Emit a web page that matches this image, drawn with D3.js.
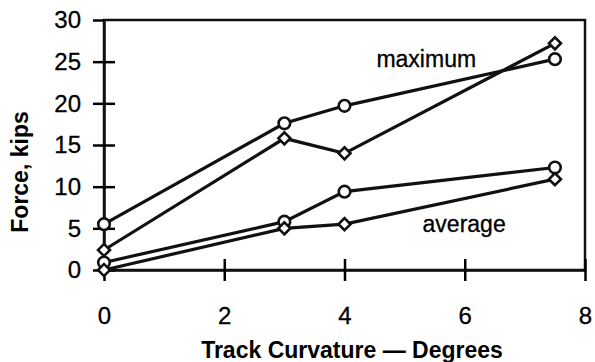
<!DOCTYPE html>
<html>
<head>
<meta charset="utf-8">
<script src="https://cdn.jsdelivr.net/npm/d3@7"></script>
<style>
  body { margin: 0; background: #fff; }
  svg text { font-family: "Liberation Sans", Arial, sans-serif; fill: #000; }
</style>
</head>
<body>
<svg id="canvas" width="595" height="362"></svg>
<script>
// data
const curvature = [0, 3, 4, 7.5];
const maxCircle = [5.5, 17.6, 19.7, 25.3];
const maxDiamond = [2.4, 15.8, 14.0, 27.2];
const avgCircle = [0.9, 5.8, 9.4, 12.3];
const avgDiamond = [0, 5.0, 5.5, 10.9];
const xTicks = [0, 2, 4, 6, 8];
const yTicks = [0, 5, 10, 15, 20, 25, 30];

const series = [
  { values: maxCircle, marker: 'circle' },
  { values: maxDiamond, marker: 'diamond' },
  { values: avgCircle, marker: 'circle' },
  { values: avgDiamond, marker: 'diamond' }
];

// margins & dimensions
const margin = { top: 20, right: 10, bottom: 92, left: 104 };
const width = 595 - margin.left - margin.right;
const height = 362 - margin.top - margin.bottom;

const svg = d3.select('#canvas')
  .append('g')
    .attr('transform', `translate(${margin.left},${margin.top})`);

const x = d3.scaleLinear().domain([0, 8]).range([0, width]);
const y = d3.scaleLinear().domain([0, 30]).range([height, 0]);

// frame
svg.append('rect')
  .attr('width', width).attr('height', height)
  .attr('fill', 'none').attr('stroke', '#111').attr('stroke-width', 2.5);

// axes, ticks cross the axis line
const yAxis = svg.append('g')
  .call(d3.axisLeft(y).tickValues(yTicks).tickSize(11).tickSizeOuter(0).tickPadding(12));
yAxis.selectAll('.tick line').attr('x1', d => d === 30 ? 0 : 11).attr('stroke-width', 2.5);

const xAxis = svg.append('g')
  .attr('transform', `translate(0,${height})`)
  .call(d3.axisBottom(x).tickValues(xTicks).tickSize(11).tickSizeOuter(0).tickPadding(26));
xAxis.selectAll('.tick line').attr('y1', -11).attr('stroke-width', 2.5);

svg.selectAll('.domain').attr('stroke', '#111').attr('stroke-width', 2.5);
svg.selectAll('.tick text')
  .style('font-size', '24px')
  .attr('stroke', '#000').attr('stroke-width', 0.3);

// lines
const line = d3.line()
  .x((d, i) => x(curvature[i]))
  .y(d => y(d));

svg.selectAll('path.series')
  .data(series)
  .join('path')
    .attr('class', 'series')
    .attr('d', d => line(d.values))
    .attr('fill', 'none')
    .attr('stroke', '#111')
    .attr('stroke-width', 3.2);

// markers
const diamond = d3.symbol().type(d3.symbolSquare).size(72);
series.forEach(s => {
  const pts = s.values.map((v, i) => ({ x: curvature[i], y: v }));
  if (s.marker === 'circle') {
    svg.append('g').selectAll('circle')
      .data(pts)
      .join('circle')
        .attr('cx', d => x(d.x))
        .attr('cy', d => y(d.y))
        .attr('r', 5.8)
        .attr('fill', '#fff')
        .attr('stroke', '#111')
        .attr('stroke-width', 2.6);
  } else {
    svg.append('g').selectAll('path')
      .data(pts)
      .join('path')
        .attr('d', diamond)
        .attr('transform', d => `translate(${x(d.x)},${y(d.y)}) rotate(45)`)
        .attr('fill', '#fff')
        .attr('stroke', '#111')
        .attr('stroke-width', 2.6);
  }
});

// series labels
svg.append('text')
  .attr('x', x(5.36)).attr('y', y(24.4))
  .attr('text-anchor', 'middle')
  .style('font-size', '23px')
  .attr('stroke', '#000').attr('stroke-width', 0.3)
  .text('maximum');

svg.append('text')
  .attr('x', x(5.99)).attr('y', y(4.56))
  .attr('text-anchor', 'middle')
  .style('font-size', '23px')
  .attr('stroke', '#000').attr('stroke-width', 0.3)
  .text('average');

// axis titles
svg.append('text')
  .attr('x', 352 - margin.left).attr('y', 358 - margin.top)
  .attr('text-anchor', 'middle')
  .style('font-size', '23px').style('font-weight', 'bold')
  .text('Track Curvature \u2014 Degrees');

svg.append('text')
  .attr('transform', `translate(${28 - margin.left},${172 - margin.top}) rotate(-90)`)
  .attr('text-anchor', 'middle')
  .style('font-size', '23px').style('font-weight', 'bold')
  .text('Force, kips');
</script>
</body>
</html>
